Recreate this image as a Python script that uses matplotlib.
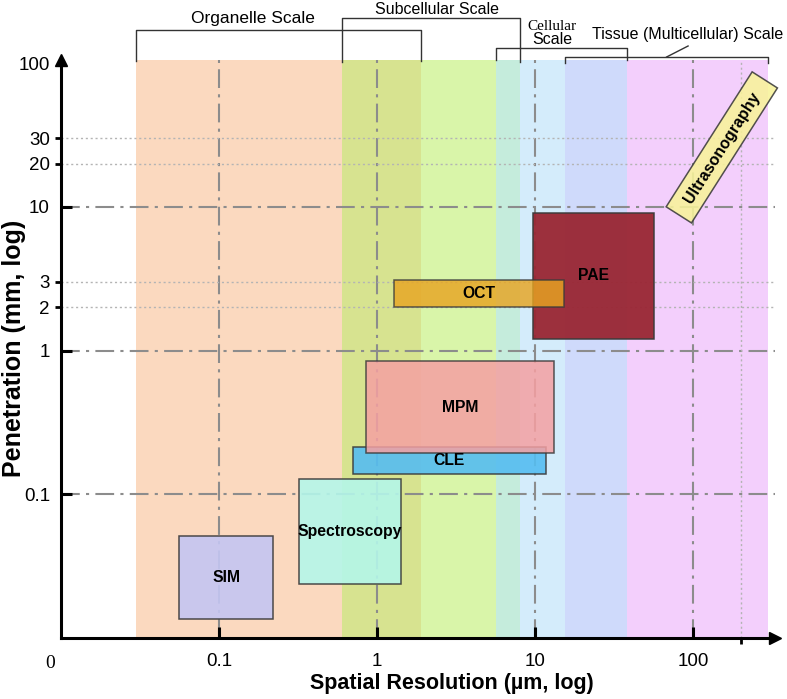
import numpy as np
import matplotlib
matplotlib.use('Agg')
import matplotlib.pyplot as plt
from matplotlib.patches import Rectangle
from matplotlib.transforms import Affine2D, blended_transform_factory

plt.rcParams['font.family'] = ['Liberation Sans', 'DejaVu Sans']

# coloured background bands along the resolution axis (um)
band_edges = [0.03, 0.6, 1.9, 5.7, 8, 15.5, 38, 300]
band_colors = ['#fbd9bf', '#d7e390', '#d9f5a9', '#c5ecdc', '#d4ecfb', '#cfdafb', '#f3cffc']

# scale brackets above the plot (um)
scale_names = ['Organelle Scale', 'Subcellular Scale', 'Cellular', 'Tissue (Multicellular) Scale']
scale_lo = [0.03, 0.6, 5.7, 15.5]
scale_hi = [1.9, 8, 38, 300]
scale_label_x = [0.165, 2.4, 12.8, 92]

# imaging techniques: resolution range (um) and penetration range (mm)
techniques = ['SIM', 'Spectroscopy', 'CLE', 'MPM', 'PAE', 'OCT']
res_lo = [0.056, 0.32, 0.70, 0.85, 9.7, 1.28]
res_hi = [0.22, 1.42, 11.7, 13.2, 57, 15.2]
pen_lo = [0.0136, 0.0237, 0.138, 0.193, 1.21, 2.02]
pen_hi = [0.051, 0.127, 0.212, 0.84, 9.1, 3.11]
tech_colors = ['#c4c6f3', '#b4f6ea', '#55bdf1', '#f5a0a2', '#992633', '#e7a522']
tech_alpha = [0.9, 0.9, 0.9, 0.85, 0.95, 0.82]

us_res, us_pen = 152, 25.9  # Ultrasonography label position

x_major = [0.1, 1, 10, 100]
x_major_labels = ['0.1', '1', '10', '100']
y_major = [0.1, 1, 10]
y_major_labels = ['0.1', '1', '10']
y_minor = [2, 3, 20, 30, 100]
y_minor_labels = ['2', '3', '20', '30', '100']

W, H = 787, 699
fig = plt.figure(figsize=(W / 100, H / 100), dpi=100)
ax = fig.add_axes([61 / W, 61 / H, 714 / W, 578 / H])
ax.set_xscale('log')
ax.set_yscale('log')
ax.set_xlim(0.01, 330)
ax.set_ylim(0.01, 105)

for i in range(len(band_colors)):
    ax.axvspan(band_edges[i], band_edges[i + 1], color=band_colors[i], lw=0, zorder=0)

# grid
dashdot = (0, (9, 3, 1.5, 3))
for x in x_major:
    ax.axvline(x, color='#8c8c8c', lw=1.5, ls=dashdot, zorder=1)
for y in y_major:
    ax.axhline(y, color='#8c8c8c', lw=1.5, ls=dashdot, zorder=1)
for y in [2, 3, 20, 30]:
    ax.axhline(y, color='#b4b4b4', lw=1, ls=(0, (1.5, 2)), zorder=1)
ax.axvline(200, color='#b4b4b4', lw=1, ls=(0, (1.5, 2)), zorder=1)

# technique boxes
for i, name in enumerate(techniques):
    ax.add_patch(Rectangle((res_lo[i], pen_lo[i]), res_hi[i] - res_lo[i], pen_hi[i] - pen_lo[i],
                           fc=tech_colors[i], ec='#3a3a3a', lw=1.1, alpha=tech_alpha[i], zorder=2))
    cx = np.sqrt(res_lo[i] * res_hi[i])
    cy = np.sqrt(pen_lo[i] * pen_hi[i])
    ax.text(cx, cy, name, ha='center', va='center', fontsize=11.3, fontweight='bold', zorder=4)

# ultrasonography: rotated box
px, py = ax.transData.transform((us_res, us_pen))
ax.add_patch(Rectangle((-80, -15), 160, 30, transform=Affine2D().rotate_deg(57.5).translate(px, py),
                       fc='#f8f39a', ec='#3a3a3a', lw=1.1, alpha=0.88, zorder=3, clip_on=False))
ax.text(us_res, us_pen, 'Ultrasonography', rotation=57.5, rotation_mode='anchor',
        ha='center', va='center', fontsize=11.5, fontweight='bold', zorder=4)

# axes with arrows
for side in ['top', 'right']:
    ax.spines[side].set_visible(False)
for side in ['left', 'bottom']:
    ax.spines[side].set_linewidth(2.2)
    ax.spines[side].set_zorder(5)
ax.plot(1, 0, '>k', ms=8, transform=ax.transAxes, clip_on=False, zorder=6)
ax.plot(0, 1, '^k', ms=8, transform=ax.transAxes, clip_on=False, zorder=6)

ax.set_xticks(x_major)
ax.set_xticklabels(x_major_labels)
ax.set_xticks([200], minor=True)
ax.set_xticklabels([''], minor=True)
ax.set_yticks(y_major)
ax.set_yticklabels(y_major_labels)
ax.set_yticks(y_minor, minor=True)
ax.set_yticklabels(y_minor_labels, minor=True)
ax.tick_params(which='major', direction='in', length=8, width=2.2, labelsize=13.5)
ax.tick_params(axis='x', which='major', pad=11)
ax.tick_params(axis='y', which='major', pad=8)
ax.tick_params(which='minor', direction='out', length=4, width=2, labelsize=13.5)
ax.tick_params(axis='y', which='minor', pad=4)
ax.yaxis.get_minor_ticks()[-1].tick1line.set_visible(False)

fig.text(50 / W, 1 - 663 / H, '0', family='Liberation Serif', fontsize=14, ha='center', va='center')
fig.text(452 / W, 1 - 683 / H, 'Spatial Resolution (\u00b5m, log)', fontsize=15.5, fontweight='bold',
         ha='center', va='center')
fig.text(14 / W, 1 - 348 / H, 'Penetration (mm, log)', fontsize=18, fontweight='bold',
         rotation=90, ha='center', va='center')

# scale brackets above the axes, y in figure pixels from the top
tr = blended_transform_factory(ax.transData, fig.transFigure)
bracket_top = [30, 18, 48, 57]
bracket_bottom = [61, 62, 60, 63]
label_y = [18, 9, 26, 35]


def fy(p):
    return 1 - p / H


for i, name in enumerate(scale_names):
    ax.plot([scale_lo[i], scale_lo[i], scale_hi[i], scale_hi[i]],
            [fy(bracket_bottom[i]), fy(bracket_top[i]), fy(bracket_top[i]), fy(bracket_bottom[i])],
            color='#333333', lw=1, transform=tr, clip_on=False)
    if name == 'Cellular':
        ax.text(scale_label_x[i], fy(label_y[i]), name, transform=tr, ha='center', va='center',
                fontsize=11, family='Liberation Serif')
        ax.text(scale_label_x[i], fy(label_y[i] + 14), 'Scale', transform=tr, ha='center',
                va='center', fontsize=11.5)
    else:
        ax.text(scale_label_x[i], fy(label_y[i]), name, transform=tr, ha='center', va='center',
                fontsize=12.5 if i == 0 else 11.5)
ax.plot([93, 68], [fy(46), fy(57)], color='#333333', lw=1, transform=tr, clip_on=False)

fig.savefig('out.png', dpi=100)
